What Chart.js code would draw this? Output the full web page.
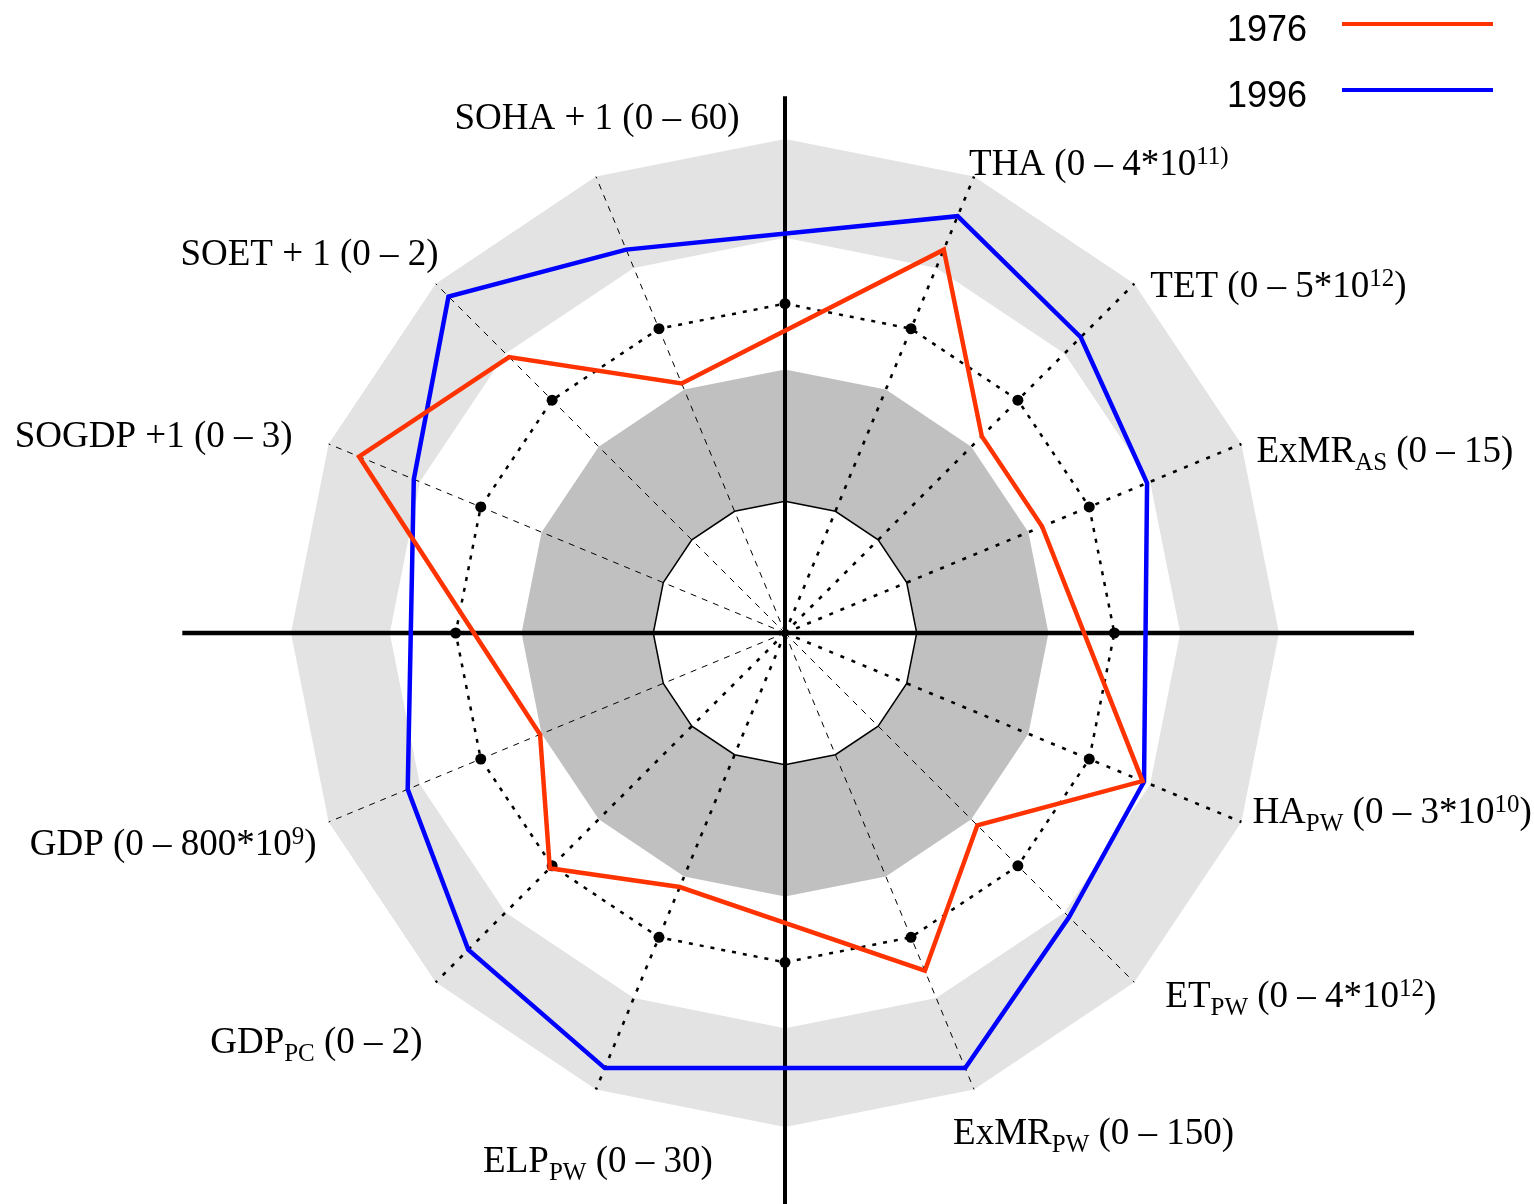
<!DOCTYPE html>
<html><head><meta charset="utf-8">
<script src="https://cdn.jsdelivr.net/npm/chart.js@4/dist/chart.umd.min.js"></script>
<style>html,body{margin:0;padding:0;background:#fff}</style>
</head><body>
<canvas id="c" width="1534" height="1204"></canvas>
<script>
// ---- data ----
const axisLabels = ['', 'THA (0 – 4*10^{11)}', 'TET (0 – 5*10^{12})', 'ExMR_{AS} (0 – 15)', '',
  'HA_{PW} (0 – 3*10^{10})', 'ET_{PW} (0 – 4*10^{12})', 'ExMR_{PW} (0 – 150)', '',
  'ELP_{PW} (0 – 30)', 'GDP_{PC} (0 – 2)', 'GDP (0 – 800*10^{9})', '',
  'SOGDP +1 (0 – 3)', 'SOET + 1 (0 – 2)', 'SOHA + 1 (0 – 60)'];
const seriesNames = ['1976', '1996'];
const values1976 = [null, 1.26, 0.845, 0.845, null, 1.175, 0.826, 1.11, null, 0.835, 1.01, 0.805, null, 1.40, 1.185, 0.82];
const values1996 = [null, 1.37, 1.27, 1.19, null, 1.18, 1.22, 1.43, null, 1.43, 1.36, 1.24, null, 1.22, 1.445, 1.26];
const scaleTicks = [0, 0.4, 0.8, 1.0, 1.2, 1.5];
const innerZone = [0.4, 0.8];
const outerZone = [1.2, 1.5];
const referenceLevel = 1.0;

// ---- styling / layout ----
const COLORS = { s1976: 'rgb(255,51,0)', s1996: 'rgb(0,0,255)', inner: '#c0c0c0', outer: '#e3e3e3' };
const heavySpokes = new Set([1, 2, 3, 5, 9, 10]);
const cardinal = new Set([0, 4, 8, 12]);
// label placement relative to spoke end: [align, dx, dy(baseline)]
const labelPlace = {
  1: ['left', -5, -2], 2: ['left', 16, 13], 3: ['left', 15, 18],
  5: ['left', 11, 1], 6: ['left', 31, 25], 7: ['left', -21, 55],
  9: ['center', 2, 83], 10: ['right', -13, 71], 11: ['right', -12, 33],
  13: ['right', -36, 3], 14: ['right', 3, -19], 15: ['center', 1, -48]
};
const crossExtent = { top: 1.63, bottom: 1.9, left: 1.83, right: 1.91 };
const FONT = '"Liberation Serif", "Times New Roman", serif';

function richParts(text) {
  const parts = []; const re = /([_^])\{([^}]*)\}/g; let last = 0, m;
  while ((m = re.exec(text))) {
    if (m.index > last) parts.push({ t: text.slice(last, m.index), k: 'n' });
    parts.push({ t: m[2], k: m[1] === '_' ? 'sub' : 'sup' });
    last = re.lastIndex;
  }
  if (last < text.length) parts.push({ t: text.slice(last), k: 'n' });
  return parts;
}
function drawRich(ctx, text, x, y, align) {
  const parts = richParts(text);
  const fontFor = k => (k === 'n' ? '37px ' : '25px ') + FONT;
  let w = 0;
  parts.forEach(p => { ctx.font = fontFor(p.k); p.w = ctx.measureText(p.t).width; w += p.w; });
  let cx = align === 'left' ? x : align === 'right' ? x - w : x - w / 2;
  ctx.textAlign = 'left'; ctx.textBaseline = 'alphabetic'; ctx.fillStyle = '#000';
  parts.forEach(p => {
    ctx.font = fontFor(p.k);
    const dy = p.k === 'sub' ? 8 : p.k === 'sup' ? -11 : 0;
    ctx.fillText(p.t, cx, y + dy);
    cx += p.w;
  });
}

const decor = {
  id: 'decor',
  beforeDraw(chart) {
    const s = chart.scales.r, ctx = chart.ctx, n = chart.data.labels.length;
    const poly = v => {
      const d = s.getDistanceFromCenterForValue(v);
      for (let i = 0; i < n; i++) { const p = s.getPointPosition(i, d); i ? ctx.lineTo(p.x, p.y) : ctx.moveTo(p.x, p.y); }
      ctx.closePath();
    };
    ctx.save();
    [[outerZone, COLORS.outer], [innerZone, COLORS.inner]].forEach(([z, c]) => {
      ctx.beginPath(); poly(z[1]); poly(z[0]); ctx.fillStyle = c; ctx.fill('evenodd');
    });
    ctx.restore();
  },
  beforeDatasetsDraw(chart) {
    const s = chart.scales.r, ctx = chart.ctx, n = chart.data.labels.length;
    const cx = s.xCenter, cy = s.yCenter, D = v => s.getDistanceFromCenterForValue(v);
    ctx.save();
    ctx.strokeStyle = '#000'; ctx.setLineDash([]);
    ctx.lineWidth = 4.5;
    ctx.beginPath(); ctx.moveTo(cx - D(crossExtent.left), cy); ctx.lineTo(cx + D(crossExtent.right), cy); ctx.stroke();
    ctx.lineWidth = 4;
    ctx.beginPath(); ctx.moveTo(cx, cy - D(crossExtent.top)); ctx.lineTo(cx, cy + D(crossExtent.bottom)); ctx.stroke();
    ctx.fillStyle = '#000';
    for (let i = 0; i < n; i++) {
      const p = s.getPointPosition(i, D(referenceLevel));
      ctx.beginPath(); ctx.arc(p.x, p.y, 5.5, 0, Math.PI * 2); ctx.fill();
    }
    ctx.restore();
  },
  afterDraw(chart) {
    const s = chart.scales.r, ctx = chart.ctx;
    ctx.save();
    chart.data.labels.forEach((lab, i) => {
      if (!lab || !labelPlace[i]) return;
      const p = s.getPointPosition(i, s.getDistanceFromCenterForValue(s.max));
      const [al, dx, dy] = labelPlace[i];
      drawRich(ctx, lab, p.x + dx, p.y + dy, al);
    });
    // legend
    ctx.font = '36px "Liberation Sans", Arial, sans-serif';
    ctx.textAlign = 'right'; ctx.textBaseline = 'alphabetic'; ctx.fillStyle = '#000';
    chart.data.datasets.forEach((ds, k) => {
      const by = 41 + k * 66;
      ctx.fillText(ds.label, 1307, by);
      ctx.strokeStyle = ds.borderColor; ctx.lineWidth = 4; ctx.setLineDash([]);
      ctx.beginPath(); ctx.moveTo(1342, by - 17); ctx.lineTo(1493, by - 17); ctx.stroke();
    });
    ctx.restore();
  }
};

new Chart(document.getElementById('c'), {
  type: 'radar',
  data: {
    labels: axisLabels,
    datasets: [
      { label: seriesNames[0], data: values1976, borderColor: COLORS.s1976, borderWidth: 4.5, fill: false, spanGaps: true, pointRadius: 0, tension: 0, borderJoinStyle: 'miter' },
      { label: seriesNames[1], data: values1996, borderColor: COLORS.s1996, borderWidth: 4.5, fill: false, spanGaps: true, pointRadius: 0, tension: 0, borderJoinStyle: 'miter' }
    ]
  },
  options: {
    responsive: false, animation: false, devicePixelRatio: 1,
    layout: { padding: { left: 235, right: 199, top: 139, bottom: 77 } },
    plugins: { legend: { display: false }, tooltip: { enabled: false } },
    elements: { line: { tension: 0 } },
    scales: {
      r: {
        min: 0, max: 1.5,
        afterBuildTicks: sc => { sc.ticks = scaleTicks.map(v => ({ value: v })); },
        ticks: { display: false },
        pointLabels: { display: false },
        grid: {
          circular: false,
          color: c => (c.tick && (c.tick.value === innerZone[0] || c.tick.value === referenceLevel)) ? '#000' : 'rgba(0,0,0,0)',
          lineWidth: c => (c.tick && c.tick.value === innerZone[0]) ? 1.5 : (c.tick && c.tick.value === referenceLevel) ? 2.5 : 0
        },
        border: { dash: c => (c.tick && c.tick.value === referenceLevel) ? [4, 7] : [] },
        angleLines: {
          color: c => cardinal.has(c.index) ? 'rgba(0,0,0,0)' : '#000',
          lineWidth: c => cardinal.has(c.index) ? 0 : heavySpokes.has(c.index) ? 2.6 : 1,
          borderDash: c => heavySpokes.has(c.index) ? [4, 8] : [6, 6]
        }
      }
    }
  },
  plugins: [decor]
});
</script>
</body></html>
